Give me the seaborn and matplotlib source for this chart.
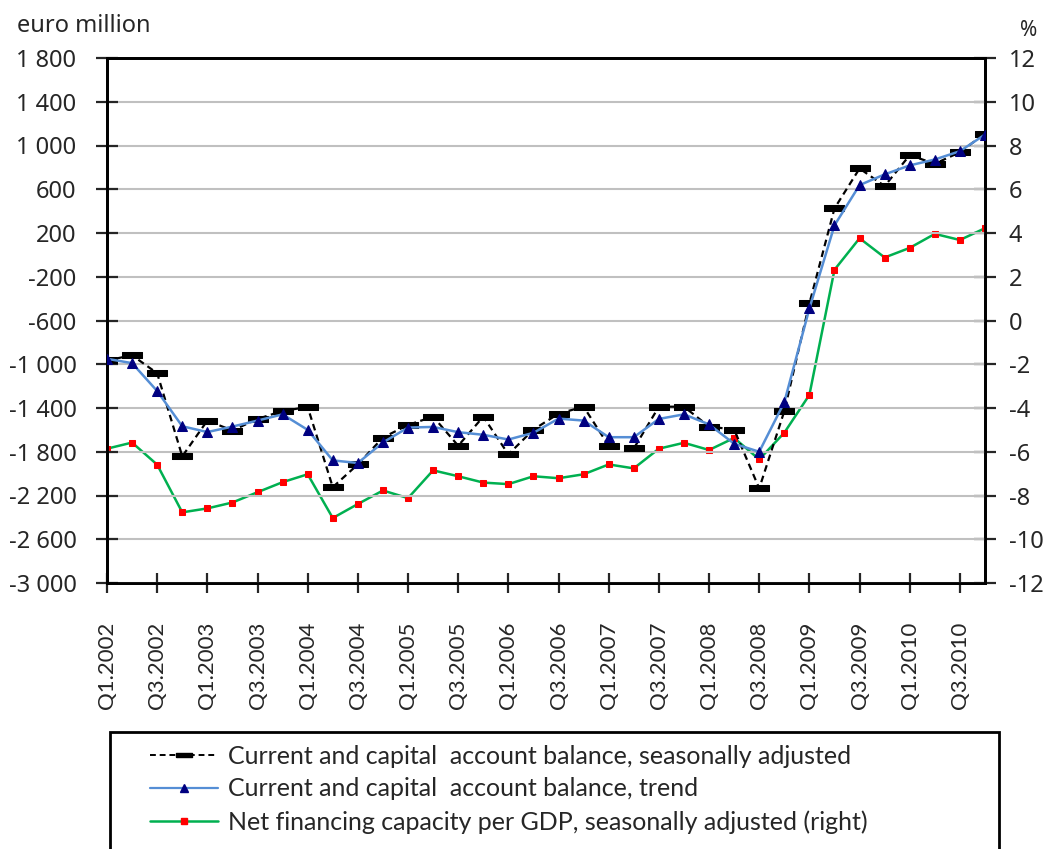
import matplotlib
matplotlib.use("Agg")
import matplotlib.pyplot as plt
import seaborn as sns
import pandas as pd
from matplotlib.lines import Line2D
from matplotlib.patches import Rectangle

years = [2002, 2003, 2004, 2005, 2006, 2007, 2008, 2009, 2010]
quarters = [f"Q{q}.{y}" for y in years for q in (1, 2, 3, 4)]

sa_balance = [-965, -918, -1082, -1842, -1515, -1606, -1500, -1427, -1391, -2124,
              -1915, -1670, -1555, -1479, -1745, -1479, -1824, -1597, -1452, -1388,
              -1745, -1770, -1388, -1388, -1570, -1597, -2135, -1429, -444, 425,
              790, 629, 912, 833, 939, 1109]
trend_balance = [-950, -990, -1245, -1567, -1620, -1570, -1515, -1458, -1600, -1879,
                 -1903, -1715, -1579, -1573, -1621, -1645, -1688, -1627, -1497, -1515,
                 -1667, -1667, -1500, -1458, -1550, -1727, -1800, -1347, -490, 270,
                 638, 736, 818, 872, 948, 1100]
nfc_gdp = [-5.86, -5.58, -6.59, -8.77, -8.59, -8.32, -7.85, -7.39, -7.03, -9.03,
           -8.39, -7.77, -8.12, -6.85, -7.12, -7.41, -7.48, -7.12, -7.21, -7.03,
           -6.58, -6.76, -5.86, -5.59, -5.92, -5.37, -6.35, -5.13, -3.40, 2.32,
           3.76, 2.88, 3.32, 3.96, 3.68, 4.22]

left_ticks = [-3000, -2600, -2200, -1800, -1400, -1000, -600, -200, 200, 600, 1000, 1400, 1800]
right_ticks = [-12, -10, -8, -6, -4, -2, 0, 2, 4, 6, 8, 10, 12]

labels = ["Current and capital  account balance, seasonally adjusted",
          "Current and capital  account balance, trend",
          "Net financing capacity per GDP, seasonally adjusted (right)"]

df = pd.DataFrame({"idx": range(len(quarters)), "quarter": quarters,
                   "sa": sa_balance, "trend": trend_balance, "nfc": nfc_gdp})

sns.set_style("white")
plt.rcParams["font.family"] = ["Noto Sans", "DejaVu Sans"]
TICK_FS = 17
LAB_FAMILY = ["Lato", "DejaVu Sans"]

W, H = 1055, 849
fig = plt.figure(figsize=(W / 100, H / 100), dpi=100)
L, R, T, B = 107, 985, 58, 583
ax = fig.add_axes([L / W, 1 - B / H, (R - L) / W, (B - T) / H])
ax2 = ax.twinx()

bar_marker = [(-1, -0.3), (1, -0.3), (1, 0.3), (-1, 0.3), (-1, -0.3)]

sns.lineplot(data=df, x="idx", y="trend", ax=ax, color="#558ED5", lw=1.8,
             marker="^", markersize=7, markerfacecolor="#000080",
             markeredgecolor="#000080", zorder=4)
sns.lineplot(data=df, x="idx", y="sa", ax=ax, color="black", lw=1.6,
             linestyle=(0, (3, 2)), marker=bar_marker, markersize=14,
             markerfacecolor="black", markeredgecolor="black", zorder=3)
sns.lineplot(data=df, x="idx", y="nfc", ax=ax2, color="#00B050", lw=1.8,
             marker="s", markersize=4.5, markerfacecolor="#FF0000",
             markeredgecolor="#FF0000", zorder=3)

ax.set_xlim(0, len(quarters) - 1)
ax.set_ylim(-3000, 1800)
ax2.set_ylim(-12, 12)

def fmt(v):
    s = f"{abs(v):,}".replace(",", " ")
    return ("-" if v < 0 else "") + s

ax.set_yticks(left_ticks)
ax.set_yticklabels([fmt(v) for v in left_ticks], fontsize=TICK_FS)
ax2.set_yticks(right_ticks)
ax2.set_yticklabels([str(v) for v in right_ticks], fontsize=TICK_FS)

xt = list(range(0, len(quarters), 2))
ax.set_xticks(xt)
ax.set_xticklabels([quarters[i] for i in xt], rotation=90, fontsize=16,
                   family=LAB_FAMILY)

ax.grid(axis="y", color="#C0C0C0", lw=1.5)
ax.set_axisbelow(True)
ax2.grid(False)
for a in (ax, ax2):
    for s in a.spines.values():
        s.set_color("black")
        s.set_linewidth(2)
    a.set_xlabel("")
    a.set_ylabel("")
ax.tick_params(axis="y", direction="inout", length=16, width=1.6, pad=14, left=True)
ax.tick_params(axis="x", direction="inout", length=15, width=1.6, pad=20, bottom=True)
ax2.tick_params(axis="y", direction="inout", length=16, width=1.6, pad=9, right=True)
ax.set_zorder(ax2.get_zorder() + 1)
ax.patch.set_visible(False)

fig.text(17 / W, 1 - 26 / H, "euro million", fontsize=TICK_FS, va="center", ha="left")
fig.text(1020 / W, 1 - 30 / H, "%", fontsize=TICK_FS - 2, va="center", ha="left")

# legend frame
fig.patches.append(Rectangle((110 / W, -0.01), (999 - 110) / W, (1 - 732 / H) + 0.01,
                             transform=fig.transFigure, fill=False,
                             edgecolor="black", lw=2))

handles = [
    Line2D([], [], color="black", lw=1.4, linestyle=(0, (3, 2)), marker=bar_marker,
           markersize=11, markerfacecolor="black", markeredgecolor="black"),
    Line2D([], [], color="#558ED5", lw=1.6, marker="^", markersize=6,
           markerfacecolor="#000080", markeredgecolor="#000080"),
    Line2D([], [], color="#00B050", lw=1.8, marker="s", markersize=4.5,
           markerfacecolor="#FF0000", markeredgecolor="#FF0000"),
]
fig.legend(handles, labels, loc="upper left",
           bbox_to_anchor=(150 / W, 1 - 745 / H), frameon=False,
           prop={"family": LAB_FAMILY, "size": 18},
           handlelength=2.7, handletextpad=0.4, labelspacing=0.38,
           borderaxespad=0, borderpad=0)

fig.savefig("out.png", dpi=100)
